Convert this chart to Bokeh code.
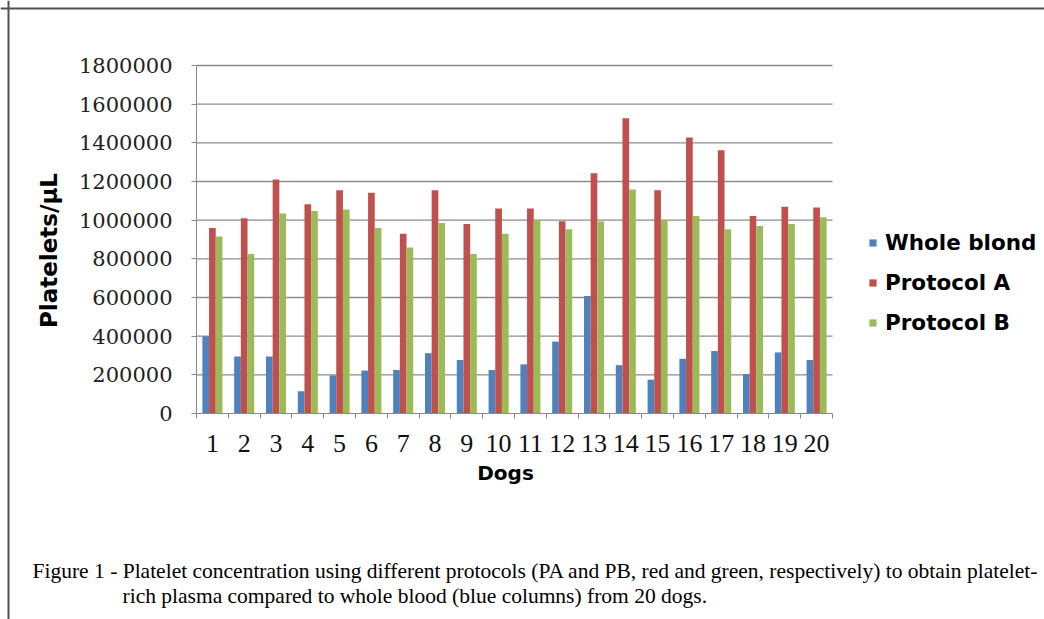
import math
from bokeh.plotting import figure
from bokeh.models import (Range1d, FixedTicker, BasicTickFormatter, Legend, LegendItem, Label, Span)
from bokeh.embed import file_html
from bokeh.resources import INLINE

dogs = list(range(1, 21))
whole_blood = [400000, 295000, 295000, 115000, 197000, 222000, 225000, 312000, 277000, 225000,
               254000, 372000, 608000, 250000, 175000, 283000, 323000, 204000, 316000, 277000]
protocol_a = [960000, 1010000, 1210000, 1082000, 1155000, 1142000, 930000, 1155000, 980000, 1060000,
              1060000, 995000, 1243000, 1527000, 1155000, 1428000, 1362000, 1022000, 1070000, 1065000]
protocol_b = [915000, 825000, 1035000, 1048000, 1055000, 960000, 858000, 985000, 825000, 930000,
              1000000, 953000, 993000, 1158000, 1001000, 1022000, 953000, 970000, 980000, 1015000]
series_names = ["Whole blond", "Protocol A", "Protocol B"]
colors = ["#4F81BD", "#C0504D", "#9BBB59"]
y_ticks = list(range(0, 1800001, 200000))
y_label = "Platelets/μL"
x_label = "Dogs"
caption_1 = ("Figure 1 - Platelet concentration using different protocols (PA and PB, red and green, "
             "respectively) to obtain platelet-")
caption_2 = "rich plasma compared to whole blood (blue columns) from 20 dogs."

W, H = 1044, 619
# layout (pixels): where the plotting area sits on the canvas
FL, FR, FT, FB = 196, 832, 65, 413
n = len(dogs)
ymax = y_ticks[-1]
px_per_dog = (FR - FL) / n
px_per_val = (FB - FT) / ymax

def xd(px):
    return 0.5 + (px - FL) / px_per_dog

def yd(py):
    return (FB - py) / px_per_val

p = figure(width=W, height=H, output_backend="svg", toolbar_location=None,
           x_range=Range1d(xd(0), xd(W)), y_range=Range1d(yd(H), yd(0)), min_border=0)
p.outline_line_color = None
p.background_fill_color = "white"
p.border_fill_color = "white"

bw = 0.21
renderers = []
for k, (vals, col) in enumerate(zip([whole_blood, protocol_a, protocol_b], colors)):
    xs = [d + (k - 1) * bw for d in dogs]
    r = p.vbar(x=xs, top=vals, width=bw, bottom=0, fill_color=col, line_color=None)
    renderers.append(r)

# gridlines limited to the plotting area
p.xgrid.grid_line_color = None
p.ygrid.grid_line_color = None
p.segment(x0=[0.5] * len(y_ticks[1:]), x1=[n + 0.5] * len(y_ticks[1:]), y0=y_ticks[1:], y1=y_ticks[1:],
          line_color="#8c8c8c", line_width=1.3, level="underlay")

# x axis
xa = p.xaxis[0]
xa.fixed_location = 0
xa.bounds = (0.5, n + 0.5)
xa.ticker = FixedTicker(ticks=dogs, minor_ticks=[d - 0.5 for d in dogs] + [n + 0.5])
xa.major_tick_line_color = None
xa.major_tick_out = 0
xa.major_tick_in = 0
xa.minor_tick_line_color = "#8a8a8a"
xa.minor_tick_out = 5
xa.minor_tick_in = 0
xa.axis_line_color = "#8a8a8a"
xa.major_label_text_font = "Liberation Serif"
xa.major_label_text_font_size = "26px"
xa.major_label_text_color = "#111111"
xa.major_label_standoff = 16

# y axis
ya = p.yaxis[0]
ya.fixed_location = 0.5
ya.bounds = (0, ymax)
ya.ticker = FixedTicker(ticks=y_ticks)
ya.formatter = BasicTickFormatter(use_scientific=False)
ya.major_tick_out = 5
ya.major_tick_in = 0
ya.minor_tick_line_color = None
ya.major_tick_line_color = "#8a8a8a"
ya.axis_line_color = "#8a8a8a"
ya.major_label_text_font = "DejaVu Serif"
ya.major_label_text_font_size = "21px"
ya.major_label_text_color = "#222222"
ya.major_label_standoff = 19

# texts
p.add_layout(Label(x=xd(48), y=yd(250), text=y_label, angle=math.pi / 2,
                   text_align="center", text_baseline="middle", text_font="DejaVu Sans",
                   text_font_style="bold", text_font_size="23px", text_color="black"))
p.add_layout(Label(x=xd(505), y=yd(472), text=x_label, text_align="center",
                   text_baseline="middle", text_font="DejaVu Sans", text_font_style="bold",
                   text_font_size="20px", text_color="black"))
p.add_layout(Label(x=xd(32), y=yd(570), text=caption_1, text_align="left", text_baseline="alphabetic",
                   text_font="Liberation Serif", text_font_size="21.5px", text_color="black"))
p.add_layout(Label(x=xd(122), y=yd(595), text=caption_2, text_align="left", text_baseline="alphabetic",
                   text_font="Liberation Serif", text_font_size="21.5px", text_color="black"))

# page frame (top and left edges)
p.add_layout(Span(location=yd(8), dimension="width", line_color="#505050", line_width=2))
p.add_layout(Span(location=xd(8), dimension="height", line_color="#505050", line_width=2))

legend = Legend(items=[LegendItem(label=nm, renderers=[r]) for nm, r in zip(series_names, renderers)],
                location=(868, H - 335), padding=0, margin=0, spacing=14,
                glyph_width=9, glyph_height=9, label_height=26, label_standoff=8,
                border_line_color=None, background_fill_alpha=0,
                label_text_font="DejaVu Sans", label_text_font_style="bold",
                label_text_font_size="21.5px", label_text_color="black")
p.add_layout(legend, "center")

open("out.html", "w").write(file_html(p, INLINE))
